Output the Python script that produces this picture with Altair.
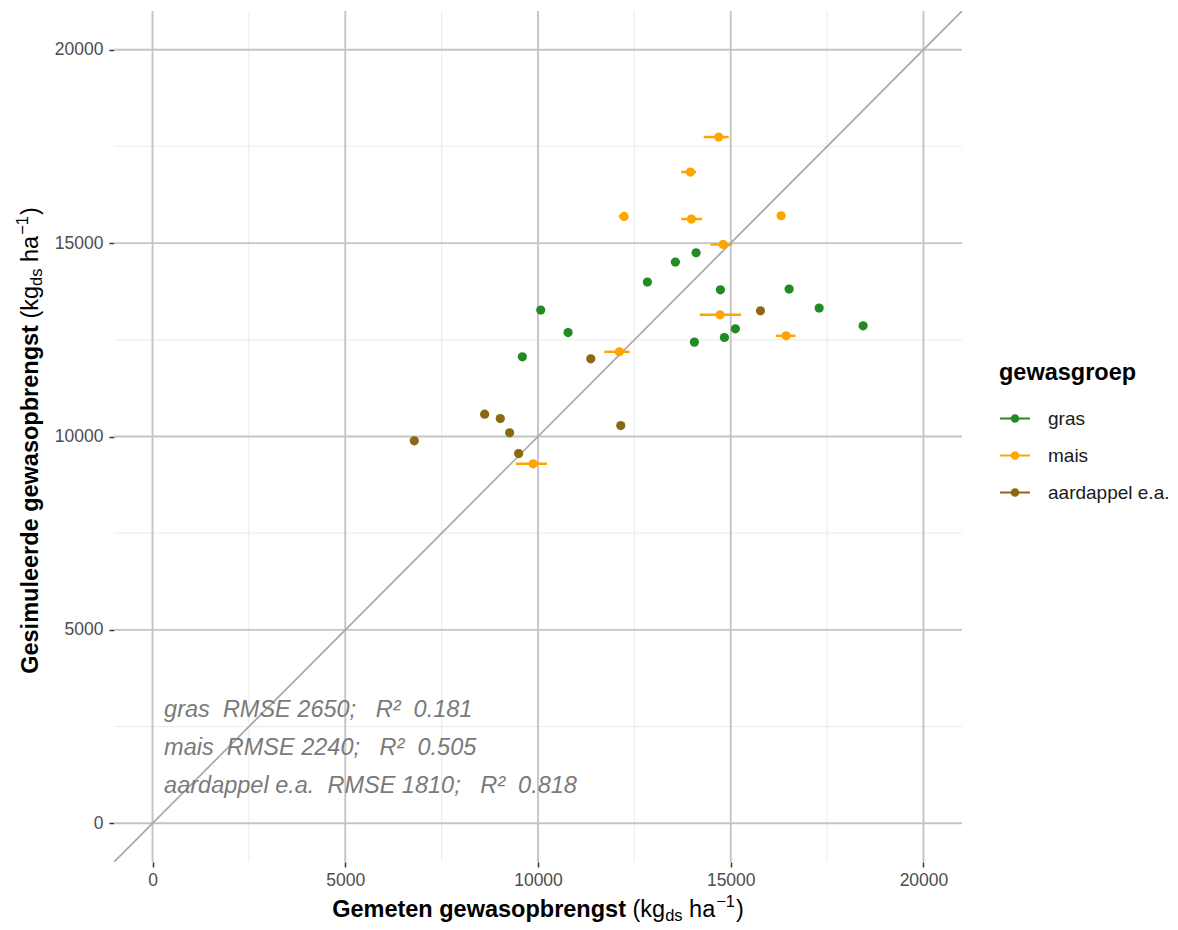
import altair as alt
import pandas as pd

# ---------------- data ----------------
groups = ["gras", "mais", "aardappel e.a."]
group_colors = ["#228B22", "#FFA500", "#8B6914"]

gras_x = [9594, 10071, 10780, 12838, 13564, 14101, 14732, 16515, 17294, 18435, 14057, 14836, 15121]
gras_y = [12060, 13268, 12688, 13992, 14509, 14750, 13793, 13811, 13320, 12862, 12440, 12559, 12784]

mais_x = [14688, 13954, 12233, 13980, 16307, 14802, 14724, 16437, 12111, 9872]
mais_y = [17742, 16837, 15689, 15621, 15707, 14964, 13146, 12603, 12189, 9293]
mais_xmin = [14299, 13712, 12093, 13713, 16250, 14473, 14195, 16177, 11722, 9420]
mais_xmax = [14948, 14100, 12300, 14257, 16360, 15036, 15269, 16679, 12379, 10235]

aard_x = [6791, 8616, 9022, 9264, 9498, 11369, 12147, 15771]
aard_y = [9889, 10578, 10464, 10094, 9559, 12008, 10283, 13250]

stat_groups = ["gras", "mais", "aardappel e.a."]
stat_rmse = [2650, 2240, 1810]
stat_r2 = ["0.181", "0.505", "0.818"]
stat_y = [2748, 1766, 784]
stat_x = [300, 300, 300]

major_ticks = [0, 5000, 10000, 15000, 20000]
minor_ticks = [2500, 7500, 12500, 17500]
diag_vals = [-1000, 21000]
domain = [-1000, 21000]

# ---------------- layout constants ----------------
W, H = 848, 851
FONT = "Liberation Sans"
TS, SS = 23.5, 16.5
NB = "\u00a0"

pts = pd.DataFrame({
    "gemeten": gras_x + mais_x + aard_x,
    "gesimuleerd": gras_y + mais_y + aard_y,
    "groep": ["gras"] * len(gras_x) + ["mais"] * len(mais_x) + ["aardappel e.a."] * len(aard_x),
})
bars = pd.DataFrame({"xmin": mais_xmin, "xmax": mais_xmax, "y": mais_y, "groep": ["mais"] * len(mais_y)})
stats = pd.DataFrame({
    "x": stat_x,
    "y": stat_y,
    "label": [f"{g}{NB} RMSE {r};{NB}{NB} R\u00b2{NB} {q}" for g, r, q in zip(stat_groups, stat_rmse, stat_r2)],
})

xs = alt.Scale(domain=domain, nice=False, zero=False)
ys = alt.Scale(domain=domain, nice=False, zero=False)
cscale = alt.Scale(domain=groups, range=group_colors)

legend_path = "M-1,0H1M0.22,0A0.22,0.22,0,1,1,-0.22,0A0.22,0.22,0,1,1,0.22,0Z"
leg = alt.Legend(
    title="gewasgroep", orient="none", legendX=885, legendY=350,
    symbolType=legend_path, symbolSize=900, symbolStrokeWidth=2,
    titleFont=FONT, titleFontSize=TS, titleFontWeight="bold", titleColor="#000000",
    titlePadding=18, labelFont=FONT, labelFontSize=19, labelColor="#1a1a1a",
    labelOffset=17, rowPadding=11, padding=0,
)

axis_common = dict(
    values=major_ticks, format="d", title=None, grid=False, domain=False,
    ticks=True, tickSize=5, tickWidth=1.5, tickColor="#333333",
    labelFont=FONT, labelFontSize=17.5, labelColor="#4d4d4d", labelFlush=False,
)
xaxis = alt.Axis(labelPadding=4, **axis_common)
yaxis = alt.Axis(labelPadding=6, **axis_common)

# ---------------- grid ----------------
minor_v = alt.Chart(pd.DataFrame({"v": minor_ticks})).mark_rule(color="#eeeeee", strokeWidth=1.2).encode(
    x=alt.X("v:Q", scale=xs, axis=xaxis))
minor_h = alt.Chart(pd.DataFrame({"v": minor_ticks})).mark_rule(color="#eeeeee", strokeWidth=1.2).encode(
    y=alt.Y("v:Q", scale=ys, axis=yaxis))
major_v = alt.Chart(pd.DataFrame({"v": major_ticks})).mark_rule(color="#c4c4c4", strokeWidth=1.9).encode(
    x=alt.X("v:Q", scale=xs, axis=xaxis))
major_h = alt.Chart(pd.DataFrame({"v": major_ticks})).mark_rule(color="#c4c4c4", strokeWidth=1.9).encode(
    y=alt.Y("v:Q", scale=ys, axis=yaxis))

diag = alt.Chart(pd.DataFrame({"a": diag_vals, "b": diag_vals})).mark_line(
    color="#a8a8a8", strokeWidth=1.7, clip=True).encode(
    x=alt.X("a:Q", scale=xs, axis=xaxis), y=alt.Y("b:Q", scale=ys, axis=yaxis))

errbars = alt.Chart(bars).mark_rule(strokeWidth=2.5).encode(
    x=alt.X("xmin:Q", scale=xs, axis=xaxis), x2="xmax:Q",
    y=alt.Y("y:Q", scale=ys, axis=yaxis),
    color=alt.Color("groep:N", scale=cscale, legend=leg))

points = alt.Chart(pts).mark_point(filled=True, size=85, opacity=1).encode(
    x=alt.X("gemeten:Q", scale=xs, axis=xaxis),
    y=alt.Y("gesimuleerd:Q", scale=ys, axis=yaxis),
    color=alt.Color("groep:N", scale=cscale, legend=leg))

annot = alt.Chart(stats).mark_text(
    align="left", baseline="alphabetic", font=FONT, fontSize=TS, fontStyle="italic", color="#7a7a7a").encode(
    x=alt.X("x:Q", scale=xs, axis=xaxis), y=alt.Y("y:Q", scale=ys, axis=yaxis), text="label:N")

# ---------------- axis titles with sub/superscripts ----------------
AR = {" ": 278, "(": 333, ")": 333, "k": 500, "g": 556, "d": 556, "s": 500, "h": 556,
      "a": 556, "1": 556, "\u2212": 584}
AB = {"G": 778, "e": 556, "m": 889, "t": 333, "n": 611, " ": 278, "g": 611, "w": 778, "a": 556,
      "s": 556, "o": 611, "p": 611, "b": 611, "r": 389, "i": 278, "u": 611, "l": 278, "d": 611}


def tw(s, size, table):
    return sum(table[c] for c in s) * size / 1000.0


def title_pieces(bold_text):
    out = []  # (text, kind, offset, shift)
    o = 0.0
    out.append((bold_text, "B", o, 0))
    o += tw(bold_text, TS, AB) + tw(" ", TS, AR)
    out.append(("(kg", "R", o, 0))
    o += tw("(kg", TS, AR)
    out.append(("ds", "S", o, 4))
    o += tw("ds", SS, AR) + tw(" ", TS, AR)
    out.append(("ha", "R", o, 0))
    o += tw("ha", TS, AR) + 1
    out.append(("\u22121", "S", o, -10))
    o += tw("\u22121", SS, AR) + 1
    out.append((")", "R", o, 0))
    o += tw(")", TS, AR)
    return out, o


layers_t = []
style = {"B": dict(fontSize=TS, fontWeight="bold"), "R": dict(fontSize=TS), "S": dict(fontSize=SS)}

xp, xtot = title_pieces("Gemeten gewasopbrengst")
x0 = (W - xtot) / 2.0
xbase = 906
for kind in ["B", "R", "S"]:
    rows = [{"t": t, "px": x0 + o, "py": xbase + sh} for (t, k, o, sh) in xp if k == kind]
    layers_t.append(alt.Chart(pd.DataFrame(rows)).mark_text(
        align="left", baseline="alphabetic", font=FONT, color="#000000", **style[kind]).encode(
        x=alt.X("px:Q", scale=None), y=alt.Y("py:Q", scale=None), text="t:N"))

yp, ytot = title_pieces("Gesimuleerde gewasopbrengst")
y0 = H / 2.0 + ytot / 2.0 + 4
ybase = -76.3
for kind in ["B", "R", "S"]:
    rows = [{"t": t, "px": ybase + sh, "py": y0 - o} for (t, k, o, sh) in yp if k == kind]
    layers_t.append(alt.Chart(pd.DataFrame(rows)).mark_text(
        align="left", baseline="alphabetic", font=FONT, color="#000000", angle=270, **style[kind]).encode(
        x=alt.X("px:Q", scale=None), y=alt.Y("py:Q", scale=None), text="t:N"))

chart = alt.layer(
    minor_v, minor_h, major_v, major_h, diag, errbars, points, annot, *layers_t
).properties(
    width=W, height=H,
    autosize=alt.AutoSizeParams(type="none"),
    padding={"left": 106, "top": 3, "right": 208, "bottom": 64},
).configure(background="white").configure_view(strokeWidth=0)

chart.save("out.html", embed_options={"renderer": "svg", "actions": False})
